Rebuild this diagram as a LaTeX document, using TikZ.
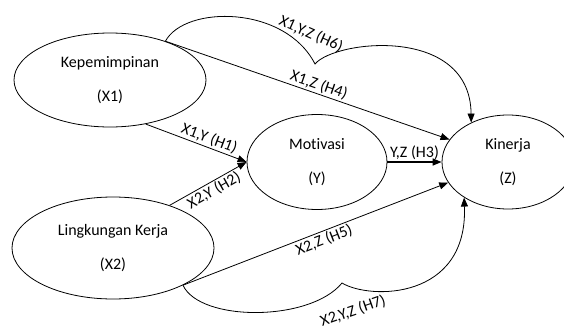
\documentclass[tikz,border=0pt]{standalone}
\usepackage{fontspec}
\setmainfont[Ligatures=NoCommon]{Carlito}
\usetikzlibrary{arrows.meta,shapes.geometric}
\begin{document}
\begin{tikzpicture}[x=1pt,y=-1pt,>={Triangle[length=9pt,width=7pt]},
  var/.style={draw,ellipse,line width=0.8pt,inner sep=0pt,align=center,font=\fontsize{16}{34}\selectfont},
  link/.style={line width=0.8pt,->},
  lbl/.style={inner sep=1.5pt,font=\fontsize{16}{19}\selectfont}]
\clip (0,0) rectangle (564,329);
\node[var,minimum width=192pt,minimum height=94pt] (kep) at (110,80) {Kepemimpinan\\(X1)};
\node[var,minimum width=202pt,minimum height=102pt] (lin) at (113,248) {Lingkungan Kerja\\(X2)};
\node[var,minimum width=140pt,minimum height=95pt] (mot) at (317,162) {Motivasi\\(Y)};
\node[var,minimum width=132pt,minimum height=94pt] (kin) at (508,162) {Kinerja\\(Z)};
\coordinate (c6) at (315,64);
\coordinate (c7) at (342,283);
\draw[link] (kep.-51) -- node[lbl,sloped,above,pos=0.6] {X1,Y (H1)} (mot.west);
\draw[link] (lin.37) -- node[lbl,sloped,below,pos=0.52] {X2,Y (H2)} (mot.west);
\draw[link,line width=1.6pt] (mot) -- node[lbl,above] {Y,Z (H3)} (kin);
\draw[link] (kep.35) -- node[lbl,sloped,above,pos=0.53] {X1,Z (H4)} (kin.159);
\draw[link] (lin.-28) -- node[lbl,sloped,below,pos=0.52] {X2,Z (H5)} (kin.199);
\draw[link] (kep.35) .. controls (185,5) and (285,5) .. (c6) .. controls (335,40) and (470,25) .. (kin.133);
\draw[link] (lin.-28) .. controls (200,322) and (310,322) .. (c7) .. controls (370,300) and (468,300) .. (kin.219);
\node[lbl,rotate=-24] (l6) at (311,34) {X1,Y,Z (H6)};
\node[lbl,rotate=19] (l7) at (353,311) {X2,Y,Z (H7)};
\end{tikzpicture}
\end{document}
